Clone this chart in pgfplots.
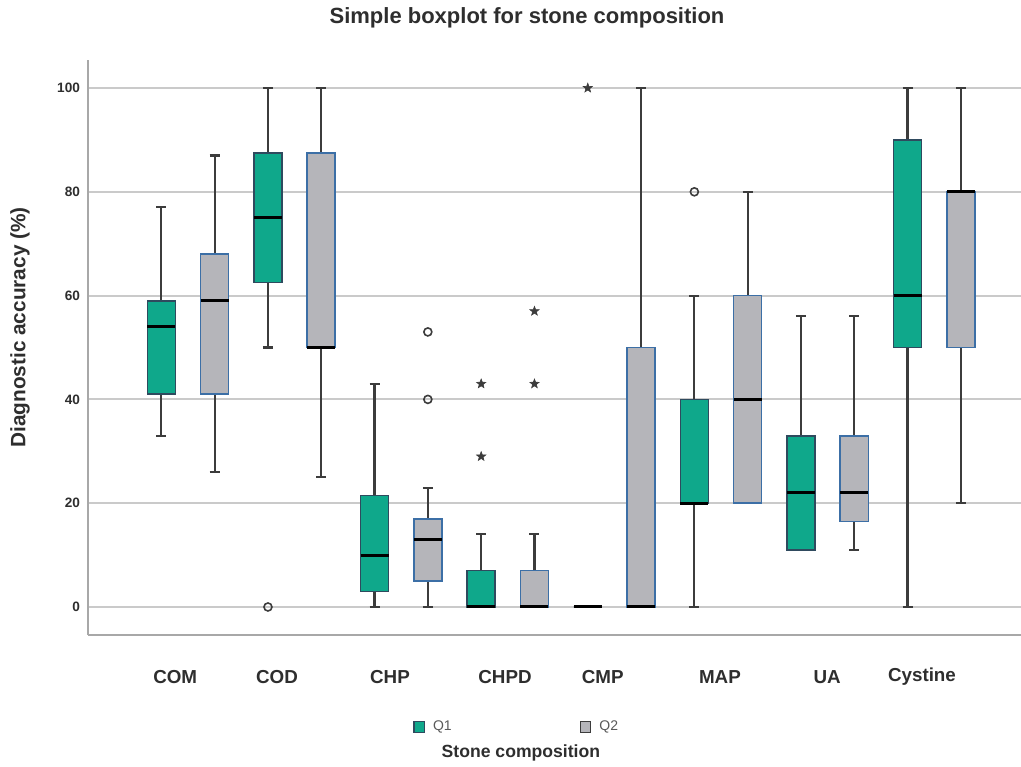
\documentclass[border=0pt]{standalone}
\usepackage{fontspec}
\setmainfont{Liberation Sans}
\usepackage{pgfplots}
\pgfplotsset{compat=1.18}
\usepgfplotslibrary{statistics}
\definecolor{qteal}{HTML}{0FA88B}
\definecolor{qgray}{HTML}{B5B5BA}
\definecolor{tealedge}{HTML}{2F4A5E}
\definecolor{grayedge}{HTML}{3C6FA6}
\definecolor{wcol}{HTML}{3C3C3C}
\definecolor{gridc}{HTML}{CACACA}
\definecolor{axc}{HTML}{A8A8A8}
\definecolor{txt}{HTML}{2E2E2E}
\pgfdeclareplotmark{fstar}{%
  \pgfpathmoveto{\pgfpointpolar{90}{\pgfplotmarksize}}%
  \pgfpathlineto{\pgfpointpolar{126}{0.42\pgfplotmarksize}}%
  \pgfpathlineto{\pgfpointpolar{162}{\pgfplotmarksize}}%
  \pgfpathlineto{\pgfpointpolar{198}{0.42\pgfplotmarksize}}%
  \pgfpathlineto{\pgfpointpolar{234}{\pgfplotmarksize}}%
  \pgfpathlineto{\pgfpointpolar{270}{0.42\pgfplotmarksize}}%
  \pgfpathlineto{\pgfpointpolar{306}{\pgfplotmarksize}}%
  \pgfpathlineto{\pgfpointpolar{342}{0.42\pgfplotmarksize}}%
  \pgfpathlineto{\pgfpointpolar{18}{\pgfplotmarksize}}%
  \pgfpathlineto{\pgfpointpolar{54}{0.42\pgfplotmarksize}}%
  \pgfpathclose
  \pgfusepathqfillstroke
}
\pgfplotsset{
  q1box/.style={forget plot, draw=wcol, line width=1.1pt,
    boxplot/every box/.style={fill=qteal, draw=tealedge, line width=0.8pt}},
  q2box/.style={forget plot, draw=wcol, line width=1.1pt,
    boxplot/every box/.style={fill=qgray, draw=grayedge, line width=0.8pt}},
  sqlegend/.style={legend image code/.code={\draw[##1] (0pt,-2.6pt) rectangle (5.2pt,2.6pt);}},
}
\begin{document}
\begin{tikzpicture}
\useasboundingbox (-44pt,-65.5pt) rectangle (466.5pt,317.5pt);
\begin{axis}[
  scale only axis,
  width=466.5pt, height=287.5pt,
  xmin=-0.938, xmax=7.814,
  ymin=-5.4, ymax=105.4,
  axis x line*=bottom, axis y line*=left,
  axis line style={-, draw=axc, line width=1pt},
  ymajorgrids, grid style={draw=gridc, line width=0.9pt},
  ytick={0,20,40,60,80,100},
  xtick={-0.12,0.835,1.895,2.974,3.89,4.99,5.995,6.885},
  xticklabels={COM,COD,CHP,CHPD,CMP,MAP,UA,Cystine},
  tick style={draw=none},
  /pgf/number format/assume math mode=true,
  xticklabel style={font=\fontsize{9.4}{11}\selectfont\bfseries, text=txt, anchor=center, yshift=-21pt},
  yticklabel style={font=\fontsize{6.8}{8}\selectfont\bfseries, text=txt, xshift=-0.5pt},
  boxplot/draw direction=y,
  boxplot/box extend=0.263,
  boxplot/whisker extend=0.094,
  boxplot/every whisker/.style={draw=wcol, line width=1.1pt},
  boxplot/every median/.style={draw=black, line width=1.5pt},
  ylabel={Diagnostic accuracy (\%)},
  ylabel style={font=\fontsize{10.4}{12}\selectfont\bfseries, text=txt, at={(axis description cs:-0.0729,0.5348)}, anchor=center, rotate=0},
  xlabel={Stone composition},
  xlabel style={font=\fontsize{8.8}{11}\selectfont\bfseries, text=txt, at={(axis description cs:0.464,-0.2052)}, anchor=center},
  legend columns=2,
  legend style={draw=none, fill=none, at={(axis description cs:0.342,-0.16)}, anchor=west,
    font=\fontsize{7}{8}\selectfont, text=black!65, column sep=2pt},
  legend cell align=left,
]
% Q1 boxes
\addplot[q1box, boxplot prepared={draw position=-0.25, lower whisker=33, lower quartile=41, median=54, upper quartile=59, upper whisker=77}] coordinates {};
\addplot[q1box, boxplot prepared={draw position=0.75, lower whisker=50, lower quartile=62.5, median=75, upper quartile=87.5, upper whisker=100}] coordinates {};
\addplot[q1box, boxplot prepared={draw position=1.75, lower whisker=0, lower quartile=3, median=10, upper quartile=21.5, upper whisker=43}] coordinates {};
\addplot[q1box, boxplot prepared={draw position=2.75, lower whisker=0, lower quartile=0, median=0, upper quartile=7, upper whisker=14}] coordinates {};
\addplot[q1box, boxplot prepared={draw position=3.75, lower whisker=0, lower quartile=0, median=0, upper quartile=0, upper whisker=0}] coordinates {};
\addplot[q1box, boxplot prepared={draw position=4.75, lower whisker=0, lower quartile=20, median=20, upper quartile=40, upper whisker=60}] coordinates {};
\addplot[q1box, boxplot prepared={draw position=5.75, lower whisker=11, lower quartile=11, median=22, upper quartile=33, upper whisker=56}] coordinates {};
\addplot[q1box, boxplot prepared={draw position=6.75, lower whisker=0, lower quartile=50, median=60, upper quartile=90, upper whisker=100}] coordinates {};
% Q2 boxes
\addplot[q2box, boxplot prepared={draw position=0.25, lower whisker=26, lower quartile=41, median=59, upper quartile=68, upper whisker=87}] coordinates {};
\addplot[q2box, boxplot prepared={draw position=1.25, lower whisker=25, lower quartile=50, median=50, upper quartile=87.5, upper whisker=100}] coordinates {};
\addplot[q2box, boxplot prepared={draw position=2.25, lower whisker=0, lower quartile=5, median=13, upper quartile=17, upper whisker=23}] coordinates {};
\addplot[q2box, boxplot prepared={draw position=3.25, lower whisker=0, lower quartile=0, median=0, upper quartile=7, upper whisker=14}] coordinates {};
\addplot[q2box, boxplot prepared={draw position=4.25, lower whisker=0, lower quartile=0, median=0, upper quartile=50, upper whisker=100}] coordinates {};
\addplot[q2box, boxplot prepared={draw position=5.25, lower whisker=20, lower quartile=20, median=40, upper quartile=60, upper whisker=80}] coordinates {};
\addplot[q2box, boxplot prepared={draw position=6.25, lower whisker=11, lower quartile=16.5, median=22, upper quartile=33, upper whisker=56}] coordinates {};
\addplot[q2box, boxplot prepared={draw position=7.25, lower whisker=20, lower quartile=50, median=80, upper quartile=80, upper whisker=100}] coordinates {};
% outliers
\addplot[forget plot, only marks, mark=o, mark size=2pt, draw=wcol, line width=0.8pt] coordinates {(0.75,0) (2.25,53) (2.25,40) (4.75,80)};
\addplot[forget plot, only marks, mark=fstar, mark size=2.4pt, draw=wcol, fill=wcol, line width=0.3pt] coordinates {(2.75,43) (2.75,29) (3.25,57) (3.25,43) (3.75,100)};
\addlegendimage{sqlegend, fill=qteal, draw=tealedge, line width=0.6pt}
\addlegendentry{Q1\hspace*{60pt}}
\addlegendimage{sqlegend, fill=qgray, draw=wcol, line width=0.6pt}
\addlegendentry{Q2}
\end{axis}
\node[font=\fontsize{11}{13}\selectfont\bfseries, text=txt, anchor=center] at (219.5pt,308.5pt) {Simple boxplot for stone composition};
\end{tikzpicture}
\end{document}
